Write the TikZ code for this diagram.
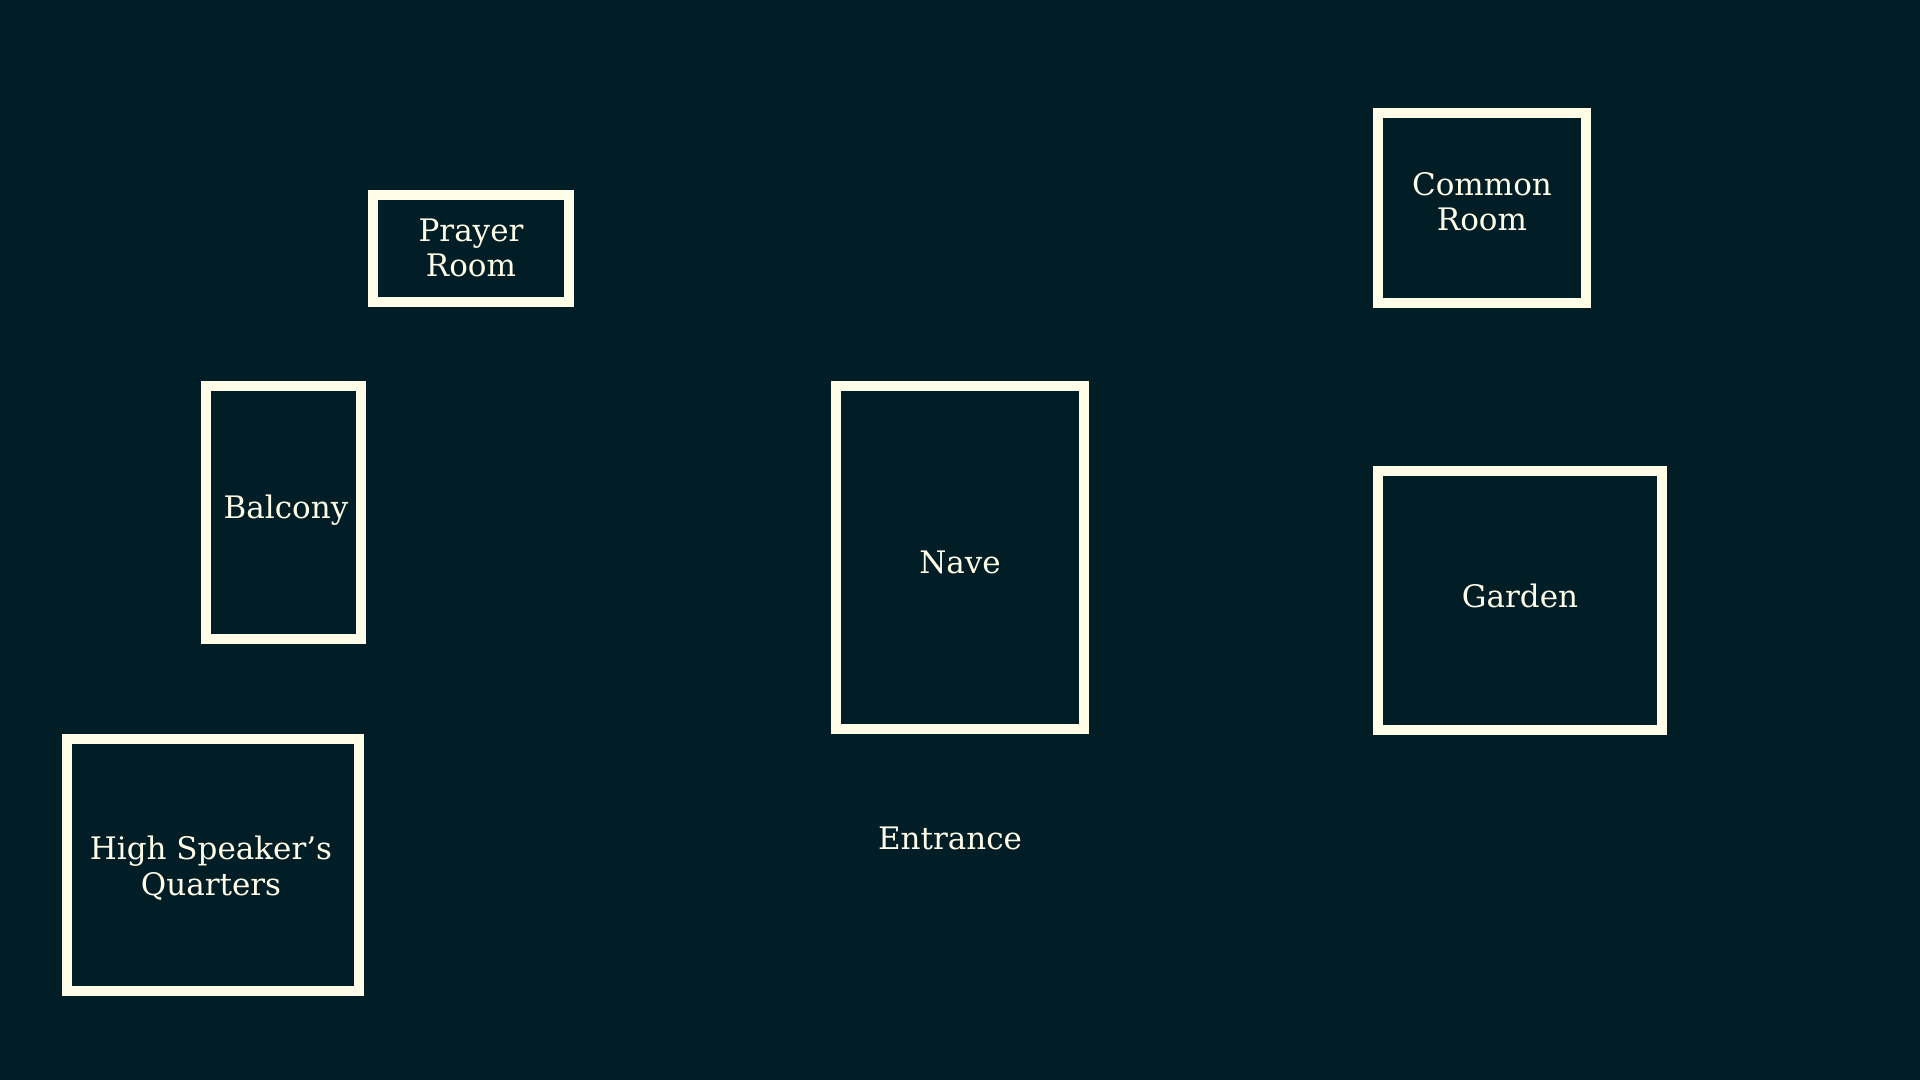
\documentclass[tikz,border=0pt]{standalone}
\usepackage{fontspec}
\setmainfont{DejaVu Serif}
\usepackage{tikz}
\usetikzlibrary{positioning}

\definecolor{bgnavy}{RGB}{1,29,38}
\definecolor{cream}{RGB}{255,253,231}

\tikzset{
  room/.style={draw=cream, line width=5pt, inner sep=0pt},
  label/.style={text=cream, align=center, inner sep=0pt, anchor=base,
    font=\fontsize{15.5pt}{17.75pt}\selectfont}
}

\begin{document}
\begin{tikzpicture}[x=0.5pt, y=-0.5pt]

% background
\fill[bgnavy] (0,0) rectangle (1920,1080);
\useasboundingbox (0,0) rectangle (1920,1080);
% rooms, with the baseline of their last line of text
\foreach \n/\x/\y/\w/\h/\tx/\ty/\name in {
  prayer/471/249/196/107/471/277/{Prayer\\Room},
  common/1482/208/208/190/1482/231/{Common\\Room},
  balcony/283/512/155/253/286/518/{Balcony},
  nave/960/557/248/343/960/573/{Nave},
  garden/1520/600/284/259/1520/607/{Garden},
  quarters/213/865/292/252/211/895/{High Speaker’s\\Quarters}}
{
\node[room, minimum width=\w*0.5pt, minimum height=\h*0.5pt] (\n) at (\x,\y) {};
\node[label] (\n-text) at (\tx,\ty) {\name};
}
% entrance
\node[label] (entrance) at (950,849) {Entrance};
\end{tikzpicture}
\end{document}
